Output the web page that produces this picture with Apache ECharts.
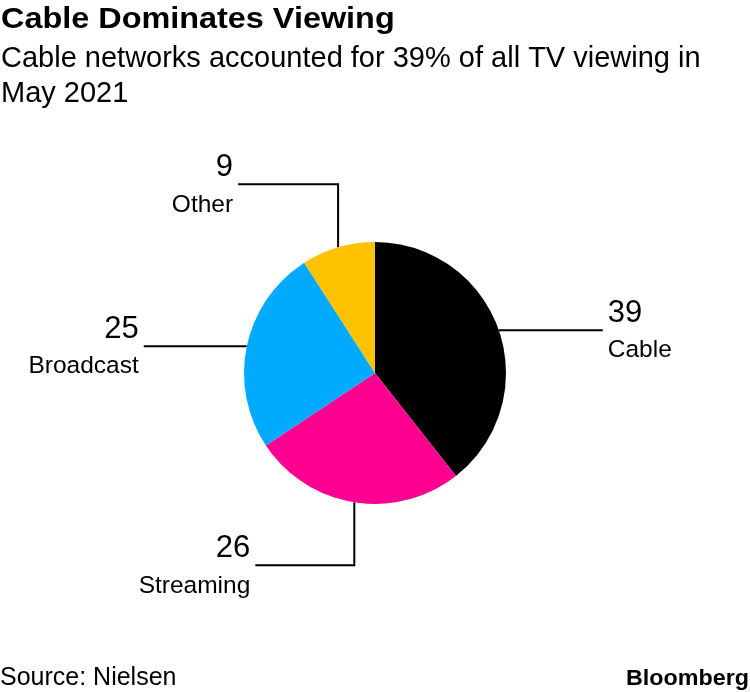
<!DOCTYPE html>
<html>
<head>
<meta charset="utf-8">
<script src="https://cdn.jsdelivr.net/npm/echarts@6/dist/echarts.min.js"></script>
<style>
html,body{margin:0;padding:0;background:#fff;}
#chart{width:750px;height:692px;}
</style>
</head>
<body>
<div id="chart"></div>
<script>
// Data
var categories = ['Cable', 'Streaming', 'Broadcast', 'Other'];
var values = [39, 26, 25, 9];
var colors = ['#000000', '#ff0090', '#00aaff', '#ffc200'];

var titleText = 'Cable Dominates Viewing';
var subtitleLines = ['Cable networks accounted for 39% of all TV viewing in', 'May 2021'];
var sourceText = 'Source: Nielsen';
var brandText = 'Bloomberg';

// Leader line routes (styling): list of [dx, dy] segments from the slice edge
var routes = {
  Cable: [[104, 0]],
  Streaming: [[0, 63], [-99, 0]],
  Broadcast: [[-103, 0]],
  Other: [[0, -63], [-100, 0]]
};

var font = '"Liberation Sans", Arial, Helvetica, sans-serif';

var chart = echarts.init(document.getElementById('chart'), null, {renderer: 'canvas'});

var option = {
  backgroundColor: '#ffffff',
  animation: false,
  graphic: [
    {type: 'text', x: 1, y: 19.5, scaleX: 1.08,
      style: {text: titleText, font: 'bold 30px ' + font, fill: '#000', verticalAlign: 'middle', align: 'left'}},
    {type: 'text', x: 1, y: 58.5, style: {text: subtitleLines[0], font: '29px ' + font, fill: '#000', verticalAlign: 'middle', align: 'left'}},
    {type: 'text', x: 1, y: 94, style: {text: subtitleLines[1], font: '29px ' + font, fill: '#000', verticalAlign: 'middle', align: 'left'}},
    {type: 'text', x: 0, y: 678, style: {text: sourceText, font: '25px ' + font, fill: '#000', verticalAlign: 'middle', align: 'left'}},
    {type: 'text', x: 749, y: 679, scaleX: 1.06,
      style: {text: brandText, font: 'bold 22px ' + font, fill: '#000', verticalAlign: 'middle', align: 'right'}}
  ],
  series: [{
    type: 'pie',
    center: [375, 373],
    radius: 131,
    startAngle: 90,
    clockwise: true,
    silent: true,
    data: categories.map(function (c, i) {
      return {name: c, value: values[i], itemStyle: {color: colors[i]}};
    }),
    label: {
      show: true,
      formatter: function (p) { return '{v|' + p.value + '}\n{n|' + p.name + '}'; },
      rich: {
        v: {fontFamily: font, fontSize: 31, color: '#000', lineHeight: 37},
        n: {fontFamily: font, fontSize: 24.5, color: '#000', lineHeight: 37}
      }
    },
    labelLine: {show: true, length: 10, length2: 10, lineStyle: {color: '#000', width: 2}},
    labelLayout: function (params) {
      var name = categories[params.dataIndex];
      var pts = params.labelLinePoints;
      if (!pts) return {};
      var x = pts[0][0], y = pts[0][1];
      var out = [[x, y]];
      routes[name].forEach(function (seg) {
        x += seg[0]; y += seg[1];
        out.push([x, y]);
      });
      var last = routes[name][routes[name].length - 1];
      var right = last[0] > 0;
      return {
        x: right ? x + 5 : x - 5,
        y: y + 2,
        align: right ? 'left' : 'right',
        verticalAlign: 'middle',
        labelLinePoints: out
      };
    }
  }]
};
chart.setOption(option);
</script>
</body>
</html>
